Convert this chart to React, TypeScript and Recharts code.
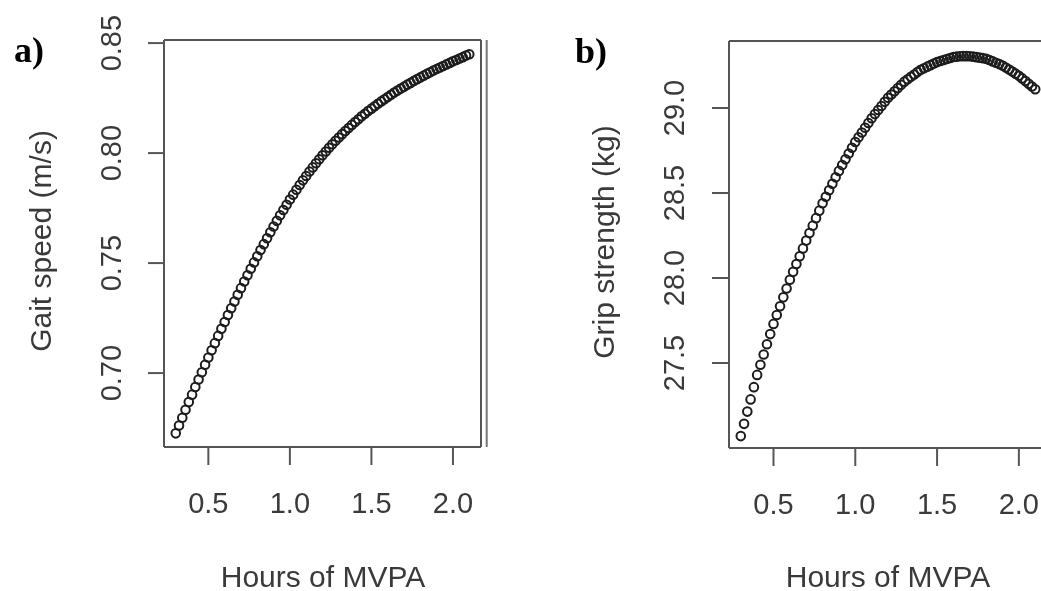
import {ReferenceLine, Scatter, ScatterChart, XAxis, YAxis} from 'recharts';

// hours of MVPA (shared x for both panels)
const hours = [
  0.3, 0.32, 0.34, 0.36, 0.38, 0.4, 0.42, 0.44, 0.46, 0.48,
  0.5, 0.52, 0.54, 0.56, 0.58, 0.6, 0.62, 0.64, 0.66, 0.68,
  0.7, 0.72, 0.74, 0.76, 0.78, 0.8, 0.82, 0.84, 0.86, 0.88,
  0.9, 0.92, 0.94, 0.96, 0.98, 1.0, 1.02, 1.04, 1.06, 1.08,
  1.1, 1.12, 1.14, 1.16, 1.18, 1.2, 1.22, 1.24, 1.26, 1.28,
  1.3, 1.32, 1.34, 1.36, 1.38, 1.4, 1.42, 1.44, 1.46, 1.48,
  1.5, 1.52, 1.54, 1.56, 1.58, 1.6, 1.62, 1.64, 1.66, 1.68,
  1.7, 1.72, 1.74, 1.76, 1.78, 1.8, 1.82, 1.84, 1.86, 1.88,
  1.9, 1.92, 1.94, 1.96, 1.98, 2.0, 2.02, 2.04, 2.06, 2.08, 2.1,
];

// a) gait speed (m/s)
const gaitSpeed = [
  0.6726, 0.6762, 0.6797, 0.6833, 0.6868, 0.6902, 0.6937, 0.6971, 0.7004, 0.7038,
  0.7071, 0.7104, 0.7136, 0.7169, 0.7201, 0.7232, 0.7264, 0.7295, 0.7325, 0.7356,
  0.7386, 0.7416, 0.7445, 0.7474, 0.7503, 0.7531, 0.7559, 0.7586, 0.7613, 0.764,
  0.7666, 0.7692, 0.7717, 0.7741, 0.7765, 0.7789, 0.7811, 0.7833, 0.7855, 0.7876,
  0.7896, 0.7916, 0.7935, 0.7954, 0.7972, 0.799, 0.8007, 0.8024, 0.804, 0.8056,
  0.8071, 0.8086, 0.81, 0.8114, 0.8128, 0.8141, 0.8154, 0.8167, 0.8179, 0.8191,
  0.8202, 0.8213, 0.8224, 0.8235, 0.8245, 0.8255, 0.8265, 0.8275, 0.8284, 0.8293,
  0.8302, 0.8311, 0.8319, 0.8328, 0.8336, 0.8344, 0.8352, 0.836, 0.8367, 0.8375,
  0.8382, 0.8389, 0.8396, 0.8403, 0.841, 0.8417, 0.8423, 0.843, 0.8436, 0.8443, 0.8449,
];

// b) grip strength (kg)
const gripStrength = [
  27.07, 27.142, 27.214, 27.286, 27.358, 27.43, 27.49, 27.55, 27.61, 27.67,
  27.73, 27.782, 27.834, 27.886, 27.938, 27.99, 28.036, 28.082, 28.128, 28.174,
  28.22, 28.264, 28.308, 28.352, 28.396, 28.44, 28.478, 28.516, 28.554, 28.592,
  28.63, 28.664, 28.698, 28.732, 28.766, 28.8, 28.828, 28.856, 28.884, 28.912,
  28.94, 28.964, 28.988, 29.012, 29.036, 29.06, 29.079, 29.098, 29.117, 29.136,
  29.155, 29.169, 29.183, 29.197, 29.211, 29.225, 29.234, 29.243, 29.252, 29.261,
  29.27, 29.276, 29.282, 29.288, 29.294, 29.3, 29.302, 29.304, 29.305, 29.305,
  29.304, 29.302, 29.299, 29.296, 29.293, 29.289, 29.282, 29.274, 29.266, 29.258,
  29.25, 29.238, 29.226, 29.214, 29.202, 29.19, 29.174, 29.158, 29.142, 29.126, 29.11,
];

const hourTicks = [0.5, 1.0, 1.5, 2.0];
const gaitTicks = [0.7, 0.75, 0.8, 0.85];
const gripTicks = [27.5, 28.0, 28.5, 29.0];

const xDomain = [0.228, 2.172];
const gaitDomain = [0.6664, 0.8514];
const gripDomain = [27.0, 29.394];

const FONT = '"Liberation Sans", Arial, sans-serif';
const TEXT = '#3a3a3a';
const FRAME = '#555';

const gaitData = hours.map((h, i) => ({x: h, y: gaitSpeed[i]}));
const gripData = hours.map((h, i) => ({x: h, y: gripStrength[i]}));

const Ring = (p: any) => <circle cx={p.cx} cy={p.cy} r={4.3} fill="none" stroke="#1c1c1c" strokeWidth={2} />;

const xTick = (p: any) => (
  <text x={p.x} y={p.y} textAnchor="middle" dominantBaseline="central" fontSize={29} fontFamily={FONT} fill={TEXT}>
    {p.payload.value.toFixed(1)}
  </text>
);

const yTick = (digits: number) => (p: any) => (
  <text
    x={p.x}
    y={p.y}
    transform={`rotate(-90 ${p.x} ${p.y})`}
    textAnchor="middle"
    dominantBaseline="central"
    fontSize={29}
    fontFamily={FONT}
    fill={TEXT}
  >
    {p.payload.value.toFixed(digits)}
  </text>
);

const frameLine = {stroke: FRAME, strokeWidth: 2};

function Panel({data, yDomain, yTicks, digits, yWidth, right, top, xHeight, width, ySize, yMargin, xMargin, extraLine}: any) {
  return (
    <ScatterChart width={width} height={591} margin={{top, right, left: 0, bottom: 0}}>
      <XAxis
        type="number"
        dataKey="x"
        domain={xDomain}
        ticks={hourTicks}
        interval={0}
        allowDataOverflow
        axisLine={frameLine}
        tickSize={18}
        tickMargin={xMargin}
        tickLine={frameLine}
        tick={xTick}
        height={xHeight}
      />
      <YAxis
        type="number"
        dataKey="y"
        domain={yDomain}
        ticks={yTicks}
        interval={0}
        allowDataOverflow
        axisLine={frameLine}
        tickSize={ySize}
        tickMargin={yMargin}
        tickLine={frameLine}
        tick={yTick(digits)}
        width={yWidth}
      />
      {/* top and right edges of the frame */}
      <ReferenceLine y={yDomain[1]} stroke={FRAME} strokeWidth={2} ifOverflow="visible" />
      <ReferenceLine x={xDomain[1]} stroke={FRAME} strokeWidth={2} ifOverflow="visible" />
      {extraLine && <ReferenceLine x={extraLine} stroke="#777" strokeWidth={2} ifOverflow="visible" />}
      <Scatter data={data} shape={Ring} isAnimationActive={false} />
    </ScatterChart>
  );
}

export default function App() {
  return (
    <div style={{position: 'absolute', left: 0, top: 0, width: 1041, height: 591, overflow: 'hidden', background: '#fff', filter: 'blur(0.5px)'}}>
      <div style={{position: 'absolute', left: 0, top: 0}}>
        <Panel
          data={gaitData}
          yDomain={gaitDomain}
          yTicks={gaitTicks}
          digits={2}
          yWidth={164}
          right={39}
          top={40}
          xHeight={144}
          width={520}
          ySize={16}
          yMargin={37}
          xMargin={38}
          extraLine={2.207}
        />
      </div>
      <div style={{position: 'absolute', left: 520, top: 0}}>
        <Panel
          data={gripData}
          yDomain={gripDomain}
          yTicks={gripTicks}
          digits={1}
          yWidth={209}
          right={13}
          top={41}
          xHeight={143}
          width={540}
          ySize={17}
          yMargin={38}
          xMargin={38}
        />
      </div>
      <svg width={1041} height={591} style={{position: 'absolute', left: 0, top: 0, pointerEvents: 'none'}}>
        <text x={14} y={62} fontFamily='"Liberation Serif", "Times New Roman", serif' fontWeight="bold" fontSize={36} fill="#000">
          a)
        </text>
        <text x={575} y={63} fontFamily='"Liberation Serif", "Times New Roman", serif' fontWeight="bold" fontSize={36} fill="#000">
          b)
        </text>
        <text x={40} y={241} transform="rotate(-90 40 241)" textAnchor="middle" dominantBaseline="central" fontSize={30} fontFamily={FONT} fill={TEXT}>
          Gait speed (m/s)
        </text>
        <text x={603} y={242} transform="rotate(-90 603 242)" textAnchor="middle" dominantBaseline="central" fontSize={30} fontFamily={FONT} fill={TEXT}>
          Grip strength (kg)
        </text>
        <text x={323} y={576} textAnchor="middle" dominantBaseline="central" fontSize={30} fontFamily={FONT} fill={TEXT}>
          Hours of MVPA
        </text>
        <text x={888} y={576} textAnchor="middle" dominantBaseline="central" fontSize={30} fontFamily={FONT} fill={TEXT}>
          Hours of MVPA
        </text>
      </svg>
    </div>
  );
}
